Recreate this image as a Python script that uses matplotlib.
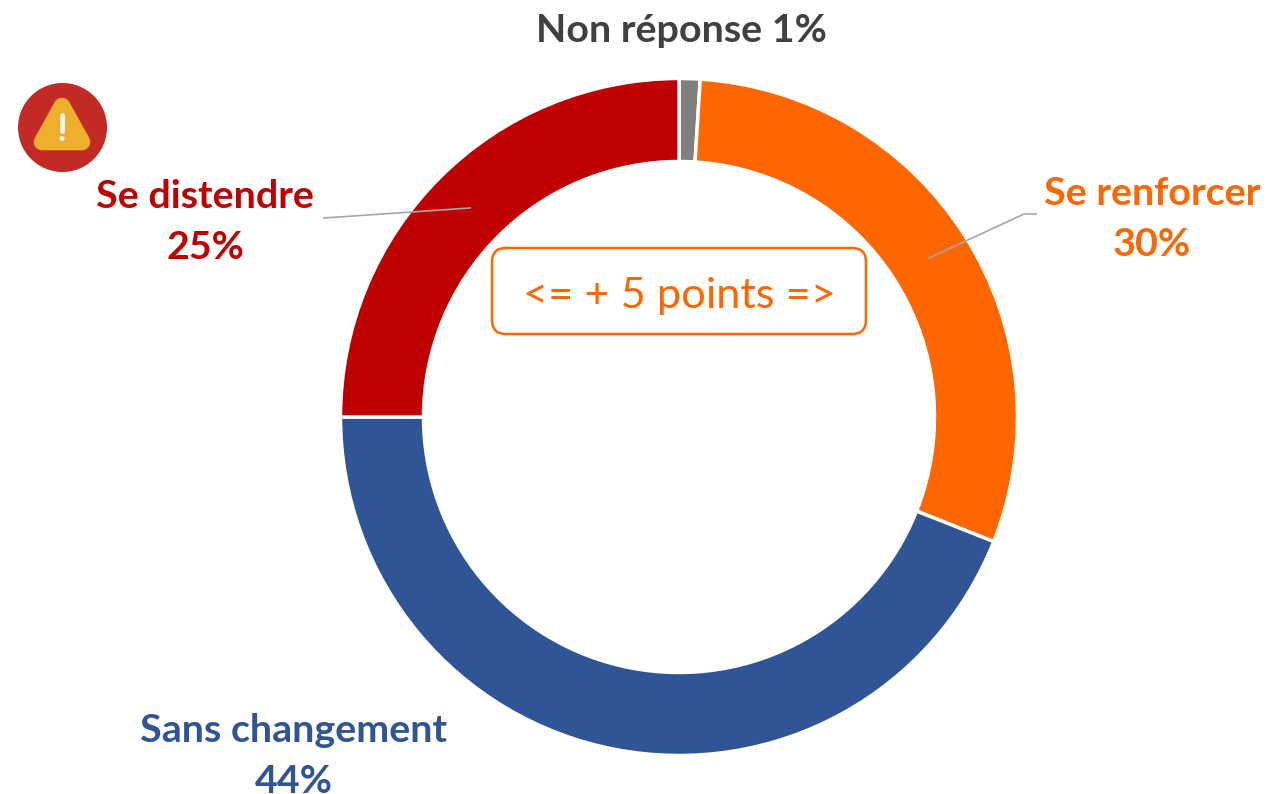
import matplotlib
matplotlib.use("Agg")
import matplotlib.pyplot as plt
from matplotlib.patches import FancyBboxPatch, Circle, Polygon

categories = ["Non réponse", "Se renforcer", "Sans changement", "Se distendre"]
values = [1, 30, 44, 25]
colors = ["#7F7F7F", "#FF6600", "#2F5597", "#C00000"]
W, H = 1266, 794
plt.rcParams['font.family'] = ['Lato', 'DejaVu Sans']
fig = plt.figure(figsize=(W/100, H/100), dpi=100, facecolor='white')
ax = fig.add_axes([0, 0, 1, 1])
def Y(y):
    return H - y
cx, cy, R = 679, 417, 338.5
ax.pie(values, colors=colors, center=(cx, Y(cy)), radius=R, startangle=90, counterclock=False,
       wedgeprops=dict(width=83, edgecolor='white', linewidth=2.5), frame=True)
ax.set_xlim(0, W); ax.set_ylim(0, H); ax.set_aspect('equal'); ax.axis('off')

# Leader lines
ax.plot([929, 1024, 1036], [Y(258), Y(214), Y(214)], color='#A6A6A6', lw=1.2, zorder=5)
ax.plot([470, 324], [Y(208), Y(218)], color='#A6A6A6', lw=1.2, zorder=5)

# Labels
fs = 28.4
ls = 1.52
ax.text(681, Y(31), f"{categories[0]} {values[0]}%", color='#404040', fontsize=fs, fontweight='bold', ha='center', va='center')
ax.text(1152, Y(219), f"{categories[1]}\n{values[1]}%", color=colors[1], fontsize=fs, fontweight='bold', ha='center', va='center', linespacing=ls)
ax.text(294, Y(756), f"{categories[2]}\n{values[2]}%", color=colors[2], fontsize=fs, fontweight='bold', ha='center', va='center', linespacing=ls)
ax.text(205, Y(222), f"{categories[3]}\n{values[3]}%", color=colors[3], fontsize=fs, fontweight='bold', ha='center', va='center', linespacing=ls)

# Annotation box
ax.add_patch(FancyBboxPatch((492, Y(334)), 374, 86, boxstyle="round,pad=0,rounding_size=14",
                            fc='white', ec='#FF6600', lw=1.8, zorder=6))
ax.text(679, Y(296), "<= + 5 points =>", color='#FF6600', fontsize=31.2, ha='center', va='center', zorder=7)

# Warning icon
ax.add_patch(Circle((62.5, Y(127.5)), 44.5, fc='#C22A26', ec='none', zorder=6))
ax.add_patch(Polygon([(62, Y(106)), (42, Y(142)), (82, Y(142))], closed=True, fc='#EFAE2C',
                     ec='#EFAE2C', lw=12, joinstyle='round', zorder=7))
ax.plot([62, 62], [Y(115), Y(131)], color='#F0F6F8', lw=3.5, solid_capstyle='round', zorder=8)
ax.add_patch(Circle((62, Y(138.5)), 2.5, fc='#F0F6F8', ec='none', zorder=8))

fig.savefig('out.png', dpi=100, facecolor='white')
